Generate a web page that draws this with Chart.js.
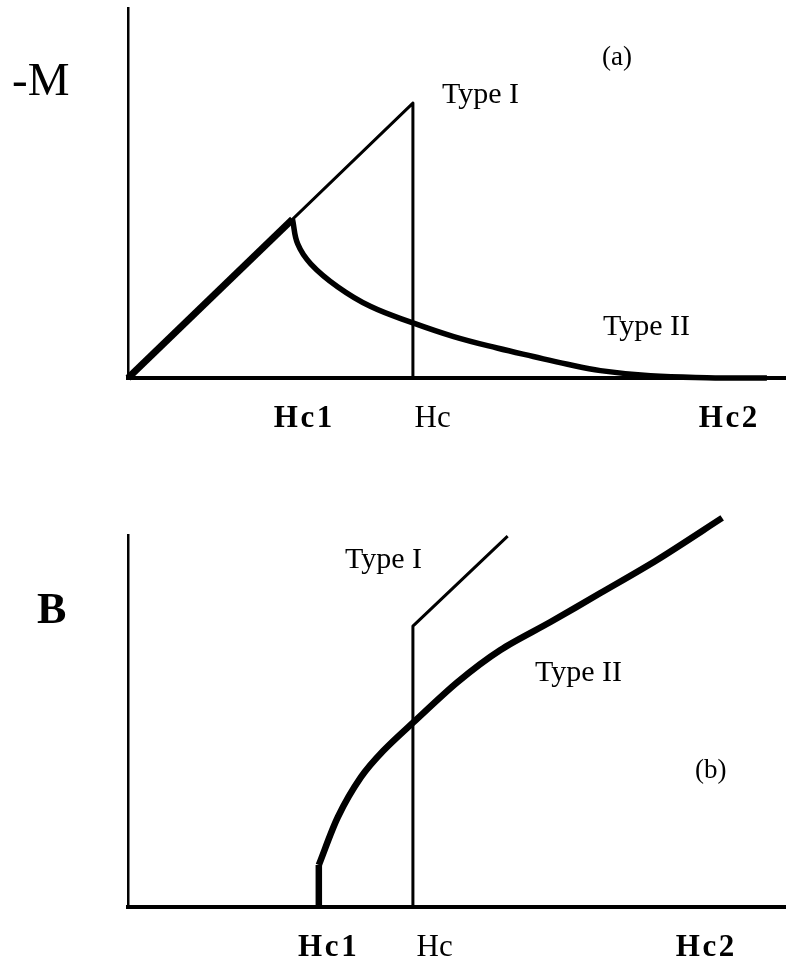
<!DOCTYPE html>
<html>
<head>
<meta charset="utf-8">
<script src="https://cdn.jsdelivr.net/npm/chart.js@4/dist/chart.umd.min.js"></script>
<style>
  html, body { margin: 0; padding: 0; background: #fff; }
  #wrap { position: relative; width: 786px; height: 961px; background: #fff; }
  canvas { position: absolute; left: 0; }
  #panelA { top: 0; }
  #panelB { top: 480px; }
</style>
</head>
<body>
<div id="wrap">
  <canvas id="panelA" width="786" height="480"></canvas>
  <canvas id="panelB" width="786" height="481"></canvas>
</div>
<script>
// ---- Panel (a): magnetisation -M versus applied field H ----
const typeIH_a = [0, 4.33, 4.33];
const typeIM_a = [0, 7.43, 0];

const meissnerH_a = [0, 2.50];
const meissnerM_a = [0, 4.29];

const typeIIH_a = [2.50, 2.58, 2.78, 3.19, 3.69, 4.33, 4.95, 5.61, 6.16, 6.68, 7.18, 7.94, 8.80, 9.71];
const typeIIM_a = [4.29, 3.62, 3.08, 2.46, 1.93, 1.49, 1.12, 0.81, 0.58, 0.37, 0.20, 0.06, 0.01, 0.00];

const tickValues_a = [2.66, 4.63, 9.12];
const tickLabels_a = ['Hc1', 'Hc', 'Hc2'];

// ---- Panel (b): induction B versus applied field H ----
const typeIH_b = [4.33, 4.33, 5.77];
const typeIB_b = [0, 7.55, 9.97];

const stubH_b = [2.90, 2.90];
const stubB_b = [0, 1.13];

const typeIIH_b = [2.90, 3.19, 3.54, 3.88, 4.34, 5.01, 5.66, 6.42, 7.18, 8.04, 9.03];
const typeIIB_b = [1.13, 2.42, 3.49, 4.20, 4.97, 6.05, 6.91, 7.66, 8.44, 9.33, 10.46];

const tickValues_b = [3.03, 4.66, 8.77];
const tickLabels_b = ['Hc1', 'Hc', 'Hc2'];

const boldTicks = ['Hc1', 'Hc2'];

const SERIF = '"Liberation Serif", "Times New Roman", serif';

function pts(xs, ys) { return xs.map((x, i) => ({ x: x, y: ys[i] })); }

// spaced-out rendering of the bold field labels
function spaced(s) { return s.split('').join('\u200A'); }

const textPlugin = {
  id: 'freeText',
  afterDatasetsDraw(chart, args, opts) {
    const ctx = chart.ctx;
    ctx.save();
    ctx.fillStyle = '#000';
    ctx.textAlign = 'left';
    ctx.textBaseline = 'alphabetic';
    (opts.items || []).forEach(t => {
      ctx.font = (t.bold ? 'bold ' : '') + t.size + 'px ' + SERIF;
      ctx.fillText(t.text, t.x, t.y);
    });
    ctx.restore();
  }
};

function line(data, width, tension) {
  return {
    data: data,
    borderColor: '#000',
    backgroundColor: '#000',
    borderWidth: width,
    pointRadius: 0,
    showLine: true,
    fill: false,
    clip: false,
    tension: tension || 0,
    capBezierPoints: false,
    borderJoinStyle: 'round'
  };
}

function makeChart(id, datasets, tickValues, tickLabels, plotTop, plotBottom, texts) {
  const canvas = document.getElementById(id);
  return new Chart(canvas, {
    type: 'scatter',
    data: { datasets: datasets },
    plugins: [textPlugin],
    options: {
      responsive: false,
      animation: false,
      devicePixelRatio: 1,
      layout: { padding: { left: 128, right: 0, top: plotTop, bottom: 0 } },
      plugins: {
        legend: { display: false },
        tooltip: { enabled: false },
        freeText: { items: texts }
      },
      scales: {
        x: {
          type: 'linear',
          min: 0,
          max: 10,
          grid: { display: false, drawTicks: false },
          border: { display: true, color: '#000', width: 4 },
          afterBuildTicks: s => { s.ticks = tickValues.map(v => ({ value: v })); },
          afterFit: s => { s.height = s.chart.height - plotBottom; },
          ticks: {
            autoSkip: false,
            maxRotation: 0,
            padding: 22,
            color: '#000',
            font: c => ({
              family: SERIF,
              size: 31,
              weight: boldTicks.includes(tickLabels[c.index]) ? 'bold' : 'normal'
            }),
            callback: (v, i) => boldTicks.includes(tickLabels[i]) ? spaced(tickLabels[i]) : tickLabels[i]
          }
        },
        y: {
          type: 'linear',
          min: 0,
          max: 10,
          grid: { display: false, drawTicks: false },
          border: { display: true, color: '#000', width: 2.5 },
          ticks: { display: false },
          afterFit: s => { s.width = 0; }
        }
      }
    }
  });
}

makeChart('panelA', [
  line(pts(typeIH_a, typeIM_a), 3, 0),
  line(pts(meissnerH_a, meissnerM_a), 7, 0),
  line(pts(typeIIH_a, typeIIM_a), 5.5, 0.4)
], tickValues_a, tickLabels_a, 8, 378, [
  { text: '-M', x: 12, y: 95, size: 47 },
  { text: '(a)', x: 602, y: 65, size: 27 },
  { text: 'Type I', x: 442, y: 103, size: 30 },
  { text: 'Type II', x: 603, y: 335, size: 30 }
]);

makeChart('panelB', [
  line(pts(typeIH_b, typeIB_b), 3, 0),
  line(pts(stubH_b, stubB_b), 6.5, 0),
  line(pts(typeIIH_b, typeIIB_b), 6.5, 0.3)
], tickValues_b, tickLabels_b, 55, 427, [
  { text: 'B', x: 37, y: 143, size: 44, bold: true },
  { text: 'Type I', x: 345, y: 88, size: 30 },
  { text: 'Type II', x: 535, y: 201, size: 30 },
  { text: '(b)', x: 695, y: 298, size: 27 }
]);
</script>
</body>
</html>
